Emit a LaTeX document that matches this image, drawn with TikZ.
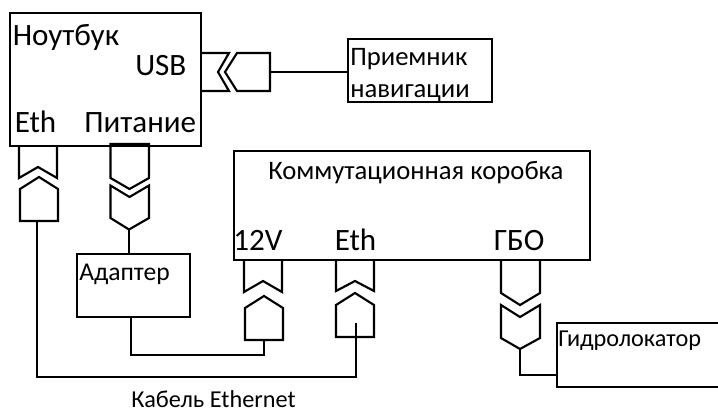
\documentclass[tikz,border=0pt]{standalone}
\usepackage{fontspec}
\setmainfont{Carlito}
\tikzset{
  px/.style={x=0.75pt,y=-0.75pt},
  wire/.style={draw=black,line width=1.6pt,line join=miter},
  boxn/.style={wire,inner sep=0pt,outer sep=0pt,anchor=north west},
  boxsize/.style 2 args={minimum width=#1*0.75pt,minimum height=#2*0.75pt},
  lbl/.style={inner sep=0pt,anchor=base west,text=black},
  big/.style={font=\fontsize{23.3}{26}\selectfont},
  mid/.style={font=\fontsize{20}{22}\selectfont},
  sml/.style={font=\fontsize{18.2}{20}\selectfont},
}
\begin{document}
\begin{tikzpicture}[px]
\useasboundingbox (0,0) rectangle (718,412);
% boxes
\node[boxn,boxsize={191}{133}] (laptop) at (10,13) {};
\node[boxn,boxsize={144}{63}] (receiver) at (348,39) {};
\node[boxn,boxsize={356}{109}] (commbox) at (234,151) {};
\node[boxn,boxsize={113}{63}] (adapter) at (77,254) {};
\node[inner sep=0pt,outer sep=0pt,anchor=north west,boxsize={161}{64}] (sonar) at (557,323) {};
\draw[wire] (sonar.north east) -- (sonar.north west) -- (sonar.south west) -- (sonar.south east);
% labels
\node[lbl,big] (tLaptop) at (12.5,45) {Ноутбук};
\node[lbl,big] (tUsb) at (135,75) {USB};
\node[lbl,big] (tEthA) at (14.5,132) {Eth};
\node[lbl,big] (tPower) at (84,132) {Питание};
\node[lbl,mid] (tComm) at (268,179) {Коммутационная коробка};
\node[lbl,big] (t12) at (233,250) {12V};
\node[lbl,big] (tEthB) at (334.5,250) {Eth};
\node[lbl,big] (tGbo) at (493.5,250) {ГБО};
\node[lbl,mid] (tRecA) at (350,65) {Приемник};
\node[lbl,mid] (tRecB) at (350,97) {навигации};
\node[lbl,font=\fontsize{19.2}{21}\selectfont] (tAdapter) at (79,280) {Адаптер};
\node[lbl,sml] (tSonar) at (558,346) {Гидролокатор};
\node[lbl,sml] (tCable) at (131,407) {Кабель Ethernet};
% USB connector
\draw[wire] (201,53) -- (229,53) -- (218,72) -- (229,91) -- (201,91);
\draw[wire] (225,72) -- (237,53) -- (270,53) -- (270,91) -- (237,91) -- cycle;
\coordinate (usbPlug) at (270,72);
% laptop Eth connector
\draw[wire] (19,146) -- (19,178) -- (38,167) -- (57,178) -- (57,146);
\draw[wire] (39,177) -- (58,189) -- (58,221) -- (20,221) -- (20,189) -- cycle;
\coordinate (ethPlugA) at (37,221);
% laptop power connector
\draw[wire] (110.5,144) -- (149,144) -- (149,178) -- (129.5,189) -- (110.5,178) -- cycle;
\draw[wire] (110.5,185.5) -- (129.5,197) -- (149,185.5) -- (149,218) -- (129,229.5) -- (110.5,218) -- cycle;
\coordinate (powerPlug) at (129,229.5);
% 12V connector
\draw[wire] (244,260) -- (244,292) -- (263,281) -- (282,292) -- (282,260);
\draw[wire] (264,296) -- (283,308) -- (283,340) -- (245,340) -- (245,308) -- cycle;
\coordinate (plugTwelve) at (264,340);
% box Eth connector
\draw[wire] (336,260) -- (336,291) -- (355,281) -- (374,291) -- (374,260);
\draw[wire] (355,293) -- (374,305) -- (374,337) -- (336,337) -- (336,305) -- cycle;
\coordinate (ethPlugB) at (356,323);
% GBO connector
\draw[wire] (501,260) -- (501,293) -- (520,305) -- (540,293) -- (540,260);
\draw[wire] (501,305) -- (520,317) -- (540,305) -- (540,338) -- (520,349) -- (501,338) -- cycle;
\coordinate (gboPlug) at (520,349);
% wires
\coordinate (adOut) at (131,317);
\coordinate (adTurnA) at (131,355);
\coordinate (adTurnB) at (264,355);
\coordinate (ethTurnA) at (37,377);
\coordinate (ethTurnB) at (356,377);
\coordinate (gboTurn) at (520,375);
\coordinate (sonarIn) at (557,375);
\draw[wire] (usbPlug) -- (usbPlug -| receiver.west);
\draw[wire] (powerPlug) -- (powerPlug |- adapter.north);
\draw[wire] (adOut) -- (adTurnA) -- (adTurnB) -- (plugTwelve);
\draw[wire] (ethPlugA) -- (ethTurnA) -- (ethTurnB) -- (ethPlugB);
\draw[wire] (gboPlug) -- (gboTurn) -- (sonarIn);
\end{tikzpicture}
\end{document}
